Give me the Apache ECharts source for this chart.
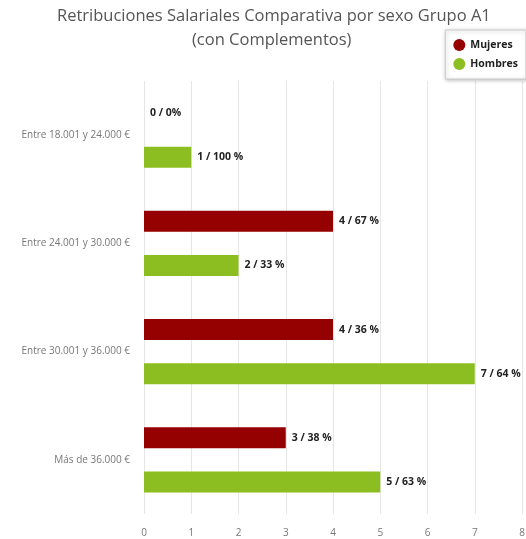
<!DOCTYPE html>
<html><head><meta charset="utf-8">
<script src="https://cdn.jsdelivr.net/npm/echarts@6/dist/echarts.min.js"></script>
<style>html,body{margin:0;padding:0;background:#fff}#c{width:526px;height:539px}</style>
</head><body><div id="c"></div>
<script>
var categories = ['Entre 18.001 y 24.000 €', 'Entre 24.001 y 30.000 €', 'Entre 30.001 y 36.000 €', 'Más de 36.000 €'];
var mujeres = [0, 4, 4, 3];
var hombres = [1, 2, 7, 5];
var mujeresLabels = ['0 / 0%', '4 / 67 %', '4 / 36 %', '3 / 38 %'];
var hombresLabels = ['1 / 100 %', '2 / 33 %', '7 / 64 %', '5 / 63 %'];
var titleLines = ['Retribuciones Salariales Comparativa por sexo Grupo A1', '(con Complementos)'];
var xTicks = [0, 1, 2, 3, 4, 5, 6, 7, 8];

var chart = echarts.init(document.getElementById('c'));
var font = '"Open Sans", sans-serif';
var lbl = function (arr) {
  return {
    show: true, position: 'right', distance: 6,
    fontFamily: font, fontWeight: 'bold', fontSize: 10.5, color: '#222',
    formatter: function (p) { return arr[p.dataIndex]; }
  };
};
var tStyle = { fontFamily: font, fontWeight: 'normal', fontSize: 16.5, color: '#555' };
chart.setOption({
  animation: false,
  title: [
    { text: titleLines[0], left: 52, top: 3, textStyle: tStyle },
    { text: titleLines[1], left: 187, top: 27, textStyle: tStyle }
  ],
  legend: {
    orient: 'vertical', right: 0, top: 30,
    data: ['Mujeres', 'Hombres'],
    icon: 'circle', itemWidth: 12, itemHeight: 12, itemGap: 7,
    padding: [9, 8, 9, 8],
    backgroundColor: '#fff', borderColor: '#ccc', borderWidth: 1,
    shadowColor: 'rgba(0,0,0,0.25)', shadowBlur: 4, shadowOffsetX: 1, shadowOffsetY: 1,
    textStyle: { fontFamily: font, fontWeight: 'bold', fontSize: 10.5, color: '#222' }
  },
  grid: { left: 144, right: 4, top: 81, bottom: 25, outerBoundsMode: 'none', containLabel: false },
  xAxis: {
    type: 'value', min: 0, max: 8, interval: 1,
    axisLine: { show: false }, axisTick: { show: false },
    splitLine: { lineStyle: { color: '#e6e6e6' } },
    axisLabel: { fontFamily: font, fontSize: 10, color: '#777', margin: 14,
      formatter: function (v) { return xTicks.indexOf(v) >= 0 ? String(v) : ''; } }
  },
  yAxis: {
    type: 'category', data: categories, inverse: true,
    axisLine: { show: false }, axisTick: { show: false },
    axisLabel: { fontFamily: font, fontSize: 10, color: '#777', margin: 14 }
  },
  series: [
    { name: 'Mujeres', type: 'bar', data: mujeres, barWidth: 21, barGap: '110%',
      itemStyle: { color: '#950000' }, label: lbl(mujeresLabels) },
    { name: 'Hombres', type: 'bar', data: hombres, barWidth: 21,
      itemStyle: { color: '#8cbe22' }, label: lbl(hombresLabels) }
  ]
});
</script></body></html>
